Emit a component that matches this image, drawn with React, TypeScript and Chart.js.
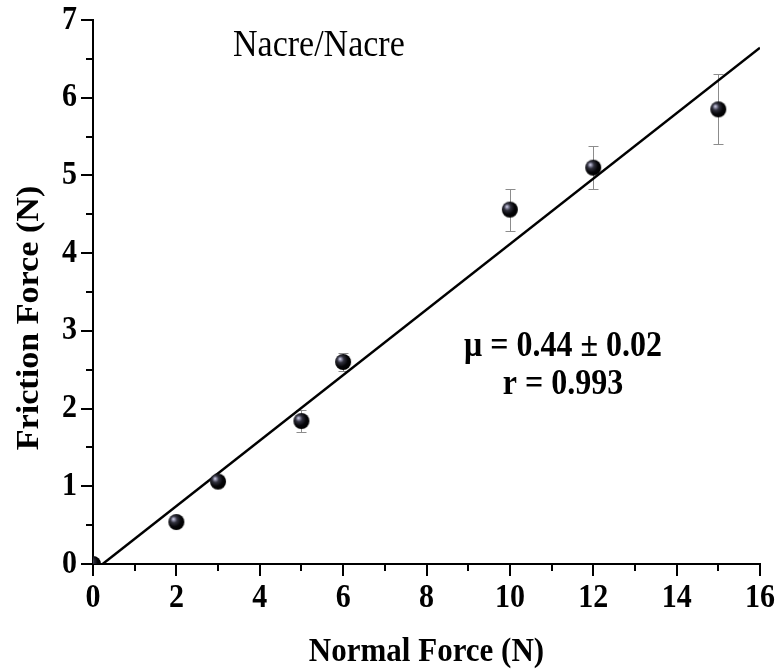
import React, { useEffect, useRef } from "react";
import { Chart, registerables } from "chart.js";

Chart.register(...registerables);

// ---- data ----
const normalForce = [0, 2, 3, 5, 6, 10, 12, 15];
const frictionForce = [0, 0.54, 1.06, 1.84, 2.6, 4.56, 5.1, 5.85];
const frictionError = [0, 0.03, 0.03, 0.14, 0.12, 0.27, 0.28, 0.45];

const xMajorTicks = [0, 2, 4, 6, 8, 10, 12, 14, 16];
const xMinorTicks = [1, 3, 5, 7, 9, 11, 13, 15];
const yMajorTicks = [0, 1, 2, 3, 4, 5, 6, 7];
const yMinorTicks = [0.5, 1.5, 2.5, 3.5, 4.5, 5.5, 6.5];

const xTitle = "Normal Force (N)";
const yTitle = "Friction Force (N)";
const sampleLabel = "Nacre/Nacre";
const muLabel = "\u03bc = 0.44 \u00b1 0.02";
const rLabel = "r = 0.993";

const FONT = "'Liberation Serif', 'Times New Roman', serif";
const STRETCH = 1.1; // the reference figure's text is slightly taller than wide

// least-squares fit of the data
function linearFit(xs: number[], ys: number[]) {
  const n = xs.length;
  let sx = 0, sy = 0, sxx = 0, sxy = 0;
  for (let i = 0; i < n; i++) {
    sx += xs[i]; sy += ys[i]; sxx += xs[i] * xs[i]; sxy += xs[i] * ys[i];
  }
  const b = (n * sxy - sx * sy) / (n * sxx - sx * sx);
  const a = (sy - b * sx) / n;
  return { a, b };
}

function makeSphere(r: number): HTMLCanvasElement {
  const c = document.createElement("canvas");
  const s = r * 2 + 2;
  c.width = s;
  c.height = s;
  const g = c.getContext("2d")!;
  const cx = s / 2, cy = s / 2;
  const grad = g.createRadialGradient(cx - r * 0.38, cy - r * 0.38, 0, cx - r * 0.2, cy - r * 0.2, r * 1.2);
  grad.addColorStop(0, "#e8e8f8");
  grad.addColorStop(0.12, "#9a9ab4");
  grad.addColorStop(0.35, "#30303c");
  grad.addColorStop(0.7, "#050508");
  grad.addColorStop(1, "#000000");
  g.fillStyle = grad;
  g.beginPath();
  g.arc(cx, cy, r, 0, Math.PI * 2);
  g.fill();
  return c;
}

function drawText(ctx: CanvasRenderingContext2D, text: string, x: number, y: number, font: string, align: CanvasTextAlign, rotate = false) {
  ctx.save();
  ctx.font = font;
  ctx.textAlign = align;
  ctx.textBaseline = "middle";
  ctx.fillStyle = "#000";
  ctx.translate(x, y);
  if (rotate) {
    ctx.rotate(-Math.PI / 2);
    ctx.scale(STRETCH, 1);
  } else {
    ctx.scale(1, STRETCH);
  }
  ctx.fillText(text, 0, 0);
  ctx.restore();
}

const decorPlugin = {
  id: "decor",
  beforeDatasetsDraw(chart: any) {
    const { ctx, scales } = chart;
    const xs = scales.x, ys = scales.y;
    ctx.save();
    ctx.strokeStyle = "#8c8c8c";
    ctx.lineWidth = 1;
    for (let i = 0; i < normalForce.length; i++) {
      const e = frictionError[i];
      if (!e) continue;
      const px = Math.round(xs.getPixelForValue(normalForce[i])) + 0.5;
      const top = Math.round(ys.getPixelForValue(frictionForce[i] + e)) + 0.5;
      const bot = Math.round(ys.getPixelForValue(frictionForce[i] - e)) + 0.5;
      ctx.beginPath();
      ctx.moveTo(px, top); ctx.lineTo(px, bot);
      ctx.moveTo(px - 5, top); ctx.lineTo(px + 5, top);
      ctx.moveTo(px - 5, bot); ctx.lineTo(px + 5, bot);
      ctx.stroke();
    }
    ctx.restore();
  },
  afterDraw(chart: any) {
    const { ctx, scales, chartArea } = chart;
    const xs = scales.x, ys = scales.y;
    ctx.save();
    ctx.strokeStyle = "#000";
    ctx.lineWidth = 2;
    const yb = chartArea.bottom;
    const xl = chartArea.left;
    ctx.beginPath();
    xMajorTicks.forEach((v) => { const p = Math.round(xs.getPixelForValue(v)); ctx.moveTo(p, yb); ctx.lineTo(p, yb + 12); });
    xMinorTicks.forEach((v) => { const p = Math.round(xs.getPixelForValue(v)); ctx.moveTo(p, yb); ctx.lineTo(p, yb + 7); });
    yMajorTicks.forEach((v) => { const p = Math.round(ys.getPixelForValue(v)); ctx.moveTo(xl, p); ctx.lineTo(xl - 12, p); });
    yMinorTicks.forEach((v) => { const p = Math.round(ys.getPixelForValue(v)); ctx.moveTo(xl, p); ctx.lineTo(xl - 7, p); });
    ctx.stroke();
    ctx.restore();

    const tickFont = `bold 30px ${FONT}`;
    xMajorTicks.forEach((v) => drawText(ctx, String(v), xs.getPixelForValue(v), yb + 34, tickFont, "center"));
    yMajorTicks.forEach((v) => drawText(ctx, String(v), xl - 16, ys.getPixelForValue(v), tickFont, "right"));

    const titleFont = `bold 31px ${FONT}`;
    drawText(ctx, xTitle, (chartArea.left + chartArea.right) / 2, 652, titleFont, "center");
    drawText(ctx, yTitle, 30, 318, titleFont, "center", true);

    drawText(ctx, sampleLabel, 233, 46, `34px ${FONT}`, "left");
    drawText(ctx, muLabel, 563, 347, `bold 32px ${FONT}`, "center");
    drawText(ctx, rLabel, 563, 385, `bold 32px ${FONT}`, "center");
  },
};

export default function App() {
  const ref = useRef<HTMLCanvasElement | null>(null);
  useEffect(() => {
    if (!ref.current) return;
    const { a, b } = linearFit(normalForce, frictionForce);
    const xMax = xMajorTicks[xMajorTicks.length - 1];
    const sphere = makeSphere(8);
    const chart = new Chart(ref.current, {
      type: "scatter",
      data: {
        datasets: [
          {
            type: "line",
            data: [
              { x: 0, y: a },
              { x: xMax, y: a + b * xMax },
            ],
            borderColor: "#000",
            borderWidth: 2.5,
            pointRadius: 0,
            fill: false,
            clip: 0,
            order: 2,
          } as any,
          {
            data: normalForce.map((x, i) => ({ x, y: frictionForce[i] })),
            pointStyle: sphere as any,
            pointRadius: 8,
            clip: 0,
            order: 1,
          } as any,
        ],
      },
      options: {
        animation: false,
        responsive: true,
        maintainAspectRatio: false,
        layout: { padding: { top: 20, right: 20, left: 0, bottom: 0 } },
        plugins: { legend: { display: false }, tooltip: { enabled: false } },
        scales: {
          x: {
            type: "linear",
            min: 0,
            max: 16,
            afterBuildTicks: (s: any) => { s.ticks = xMajorTicks.map((v) => ({ value: v })); },
            afterFit: (s: any) => { s.height = 106; },
            ticks: { display: false },
            grid: { display: true, drawOnChartArea: false, drawTicks: false },
            border: { display: true, color: "#000", width: 2 },
          },
          y: {
            type: "linear",
            min: 0,
            max: 7,
            afterBuildTicks: (s: any) => { s.ticks = yMajorTicks.map((v) => ({ value: v })); },
            afterFit: (s: any) => { s.width = 93; },
            ticks: { display: false },
            grid: { display: true, drawOnChartArea: false, drawTicks: false },
            border: { display: true, color: "#000", width: 2 },
          },
        },
      },
      plugins: [decorPlugin],
    });
    return () => chart.destroy();
  }, []);
  return (
    <div style={{ position: "fixed", left: 0, top: 0, width: 780, height: 670, background: "#fff" }}>
      <canvas ref={ref} />
    </div>
  );
}
